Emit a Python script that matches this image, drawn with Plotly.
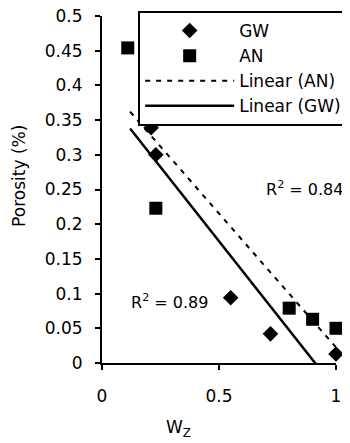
import numpy as np
import plotly.graph_objects as go

# Data
gw_x = [0.21, 0.23, 0.55, 0.72, 1.00]
gw_y = [0.339, 0.300, 0.094, 0.042, 0.013]
an_x = [0.11, 0.23, 0.80, 0.90, 1.00]
an_y = [0.454, 0.223, 0.079, 0.063, 0.050]

# x-extent of the drawn trendlines
gw_line_x = [0.12, 0.92]
an_line_x = [0.12, 1.00]

r2_gw = "R<sup>2</sup> = 0.89"
r2_an = "R<sup>2</sup> = 0.84"

x_ticks = [0, 0.5, 1]
x_ticktext = ["0", "0.5", "1"]
y_ticks = [0, 0.05, 0.1, 0.15, 0.2, 0.25, 0.3, 0.35, 0.4, 0.45, 0.5]
y_ticktext = ["0", "0.05", "0.1", "0.15", "0.2", "0.25", "0.3", "0.35", "0.4", "0.45", "0.5"]

gw_fit = np.polyfit(gw_x, gw_y, 1)
an_fit = np.polyfit(an_x, an_y, 1)

FONT = "DejaVu Sans"

fig = go.Figure()
fig.add_trace(go.Scatter(x=gw_x, y=gw_y, mode="markers", name="GW",
                         marker=dict(symbol="diamond", size=12, color="black"),
                         cliponaxis=False))
fig.add_trace(go.Scatter(x=an_x, y=an_y, mode="markers", name="AN",
                         marker=dict(symbol="square", size=13, color="black"),
                         cliponaxis=False))
fig.add_trace(go.Scatter(x=an_line_x, y=list(np.polyval(an_fit, an_line_x)),
                         mode="lines", name="Linear (AN)",
                         line=dict(color="black", width=2, dash="5px,6px")))
fig.add_trace(go.Scatter(x=gw_line_x, y=list(np.polyval(gw_fit, gw_line_x)),
                         mode="lines", name="Linear (GW)",
                         line=dict(color="black", width=2.5)))

fig.add_annotation(x=1.04, y=0.251, xref="paper", yref="y",
                   xanchor="right", yanchor="middle",
                   text=r2_an, showarrow=False,
                   font=dict(family=FONT, size=16, color="black"))
fig.add_annotation(x=0.29, y=0.089, xref="x", yref="y",
                   xanchor="center", yanchor="middle",
                   text=r2_gw, showarrow=False,
                   font=dict(family=FONT, size=16, color="black"))

fig.add_annotation(x=0.325, y=-0.19, xref="paper", yref="paper", text="W<sub>Z</sub>",
                   xanchor="center", yanchor="middle",
                   showarrow=False, font=dict(family=FONT, size=17, color="black"))
fig.add_annotation(x=-0.355, y=0.539, xref="paper", yref="paper", text="Porosity (%)",
                   xanchor="center", yanchor="middle",
                   textangle=-90, showarrow=False,
                   font=dict(family=FONT, size=17, color="black"))

fig.update_xaxes(range=[0, 1], tickvals=x_ticks, ticktext=x_ticktext,
                 showgrid=False, zeroline=False, showline=True, linecolor="black",
                 linewidth=2, ticks="outside", ticklen=5, tickwidth=2, tickcolor="black",
                 ticklabelstandoff=12, ticklabeloverflow="allow",
                 tickfont=dict(family=FONT, size=17, color="black"))
fig.update_yaxes(range=[0, 0.5], tickvals=y_ticks, ticktext=y_ticktext,
                 showgrid=False, zeroline=False, showline=True, linecolor="black",
                 linewidth=2, ticks="outside", ticklen=5, tickwidth=2, tickcolor="black",
                 ticklabelstandoff=9, ticklabeloverflow="allow",
                 tickfont=dict(family=FONT, size=17, color="black"))

# the page body adds an 8px margin, so the figure is 8px smaller on each axis
fig.update_layout(
    width=342, height=435,
    margin=dict(l=94, r=14, t=8, b=80, autoexpand=False),
    plot_bgcolor="white", paper_bgcolor="white",
    showlegend=True,
    legend=dict(x=1.052, xanchor="right", y=1.0144, yanchor="top",
                bgcolor="white", bordercolor="black", borderwidth=2,
                font=dict(family=FONT, size=17, color="black"),
                itemwidth=89, tracegroupgap=0),
)

fig.write_html("out.html")
